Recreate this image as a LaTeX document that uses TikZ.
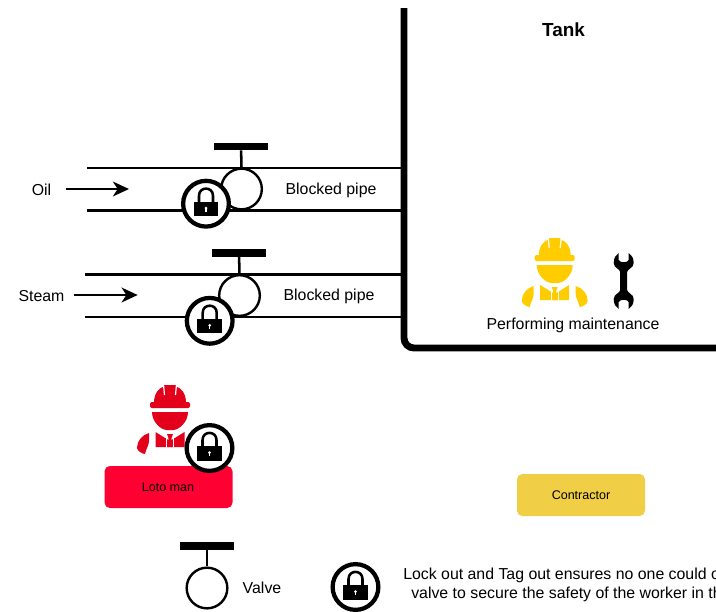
\documentclass[tikz,border=0pt]{standalone}
\usepackage{fontspec}
\setmainfont{Liberation Sans}
\usetikzlibrary{arrows.meta}
\definecolor{helmetyellow}{RGB}{255,204,0}
\definecolor{helmetred}{RGB}{226,0,26}
\definecolor{lotored}{RGB}{255,0,51}
\definecolor{contractoryellow}{RGB}{240,206,69}
\tikzset{
  every pic/.style={yscale=-1},
  pipeline/.style={line width=2.2pt},
  tankwall/.style={line width=5.2pt,rounded corners=7.5pt},
  flowarrow/.style={line width=2pt,-{Stealth[length=12pt,width=11pt,inset=3.5pt]}},
  valvebody/.style={circle,draw,line width=1.8pt,fill=white,minimum size=30.5pt,inner sep=0pt},
  valvehandle/.style={rectangle,fill=black,minimum width=40pt,minimum height=5.6pt,inner sep=0pt},
  valvestem/.style={line width=1.9pt},
  lockring/.style={circle,draw,line width=3.2pt,fill=white,minimum size=34.3pt,inner sep=0pt},
  labeltext/.style={inner sep=0.75pt,font=\fontsize{11.9}{14}\selectfont},
  tanktext/.style={inner sep=0.75pt,font=\fontsize{14.2}{17}\selectfont\bfseries},
  smalltext/.style={inner sep=0.75pt,font=\fontsize{9.4}{11}\selectfont},
  rolebox/.style={rectangle,rounded corners=4pt,minimum width=96pt,minimum height=31.5pt,inner sep=0pt},
  padlock/.pic={
    \draw [line width=1.9pt] (-7,0) -- (-7,-8) .. controls (-7,-17.5) and (7,-17.5) .. (7,-8) -- (7,0) ;
    \fill (-12.3,-2) rectangle (12.3,12.5) ;
    \fill [white] (0,4.5) circle (1.5) ;
    \fill [white] (-0.7,4.5) rectangle (0.7,8) ;
  },
  wrench/.pic={
    \fill (-3.5,-9) .. controls (-3.5,-12) and (-10,-13) .. (-10,-18) .. controls (-10,-23) and (-8,-26) .. (-5,-28) -- (-5,-21) .. controls (-4,-18) and (4,-18) .. (5,-21) -- (5,-28) .. controls (8,-26) and (10,-23) .. (10,-18) .. controls (10,-13) and (3.5,-12) .. (3.5,-9) -- (3.5,9) .. controls (3.5,12) and (10,13) .. (10,18) .. controls (10,23) and (8,26) .. (5,28) -- (5,21) .. controls (4,18) and (-4,18) .. (-5,21) -- (-5,28) .. controls (-8,26) and (-10,23) .. (-10,18) .. controls (-10,13) and (-3.5,12) .. (-3.5,9) -- cycle ;
  },
  worker/.pic={
    %helmet
    \fill [pic actions] (-16,18) .. controls (-16,8) and (-11,3) .. (-6,1.5) -- (-6,0) -- (6,0) -- (6,1.5) .. controls (11,3) and (16,8) .. (16,18) -- cycle ;
    \draw [white,line width=0.9pt] (-6.5,-0.5) -- (-5.5,10) (6.5,-0.5) -- (5.5,10) ;
    \fill [pic actions,rounded corners=1.5pt] (-20,17) rectangle (20,23) ;
    %face
    \fill [pic actions] (-18,27) -- (18,27) .. controls (18,37) and (9,45) .. (3,45) -- (-3,45) .. controls (-9,45) and (-18,37) .. (-18,27) -- cycle ;
    %body
    \fill [pic actions] (-14.5,47) -- (0,56) -- (14.5,47) -- (14.5,62) -- (-14.5,62) -- cycle ;
    \fill [pic actions] (-3,49) -- (3,49) -- (1.5,53) -- (2.5,62) -- (-2.5,62) -- (-1.5,53) -- cycle ;
    \draw [white,line width=0.6pt] (-3.5,50) -- (-3.5,62) (3.5,50) -- (3.5,62) ;
    %arms
    \fill [pic actions] (-21,48) .. controls (-28,50) and (-33,56) .. (-33,63) .. controls (-33,66) and (-27,69) .. (-25,69) .. controls (-24,64) and (-21,60) .. (-21,56) -- cycle ;
    \fill [pic actions] (21,48) .. controls (28,50) and (33,56) .. (33,63) .. controls (33,66) and (27,69) .. (25,69) .. controls (24,64) and (21,60) .. (21,56) -- cycle ;
  },
}
\begin{document}
\begin{tikzpicture}[x=0.75pt,y=0.75pt,yscale=-1,xscale=1]
        \useasboundingbox (0,0) rectangle (716,611);
        \clip (0,0) rectangle (716,611);

        %Tank wall
        \coordinate (walltop) at (404,8);
        \coordinate (wallcorner) at (404,348);
        \coordinate (wallend) at (716,348);
        \draw [tankwall] (walltop) -- (wallcorner) -- (wallend) ;

        %Pipes
        \coordinate (oiltop) at (87,168);
        \coordinate (oilbottom) at (87,210.5);
        \coordinate (steamtop) at (85,274.5);
        \coordinate (steambottom) at (85,317);
        \draw [pipeline] (oiltop) -- (oiltop -| walltop) ;
        \draw [pipeline] (oilbottom) -- (oilbottom -| walltop) ;
        \draw [pipeline] (steamtop) -- (steamtop -| walltop) ;
        \draw [pipeline] (steambottom) -- (steambottom -| walltop) ;

        %Valves
        \node (valveoil) [valvebody] at (241.5,189) {};
        \node (handleoil) [valvehandle] at (241,146.3) {};
        \draw [valvestem] (handleoil) -- (valveoil.north) ;
        \node (valvesteam) [valvebody] at (239.5,295.5) {};
        \node (handlesteam) [valvehandle] at (239,253) {};
        \draw [valvestem] (handlesteam) -- (valvesteam.north) ;
        \node (valvelegend) [valvebody] at (207,588) {};
        \node (handlelegend) [valvehandle] at (207,546) {};
        \draw [valvestem] (handlelegend) -- (valvelegend.north) ;

        %Locks
        \node (lockoil) [lockring] at (206,203.7) {};
        \pic at (lockoil) {padlock};
        \node (locksteam) [lockring] at (209.7,320.8) {};
        \pic at (locksteam) {padlock};

        %Workers and boxes
        \pic [fill=helmetyellow] at (554.7,238) {worker};
        \pic at (623.7,281) {wrench};
        \pic [fill=helmetred] at (170,385) {worker};
        \node (lotobox) [rolebox,fill=lotored] at (168.5,487) {};
        \node (contractorbox) [rolebox,fill=contractoryellow] at (581,495) {};
        \node (lockman) [lockring] at (209.5,448) {};
        \pic at (lockman) {padlock};
        \node (locklegend) [lockring] at (355.5,587) {};
        \pic at (locklegend) {padlock};

        %Flow arrows
        \coordinate (oilstart) at (65.7,189);
        \coordinate (oilend) at (129,189);
        \coordinate (steamstart) at (74,295);
        \coordinate (steamend) at (137.7,295);
        \draw [flowarrow] (oilstart) -- (oilend) ;
        \draw [flowarrow] (steamstart) -- (steamend) ;

        % Text Node
        \draw (563.5,30) node (tanklabel) [tanktext] {Tank};
        % Text Node
        \draw (41.5,189.5) node (oillabel) [labeltext] {Oil};
        % Text Node
        \draw (41.5,296) node (steamlabel) [labeltext] {Steam};
        % Text Node
        \draw (331,190) node (blockedoil) [labeltext] {Blocked pipe};
        % Text Node
        \draw (329,296) node (blockedsteam) [labeltext] {Blocked pipe};
        % Text Node
        \draw (573,325) node (maintenance) [labeltext] {Performing maintenance};
        % Text Node
        \draw (168,487.5) node (lotolabel) [smalltext] {Loto man};
        % Text Node
        \draw (581,495.5) node (contractorlabel) [smalltext] {Contractor};
        % Text Node
        \draw (262,588) node (valvelabel) [labeltext] {Valve};
        % Text Node
        \draw (402,575) node (lotoline) [labeltext,anchor=west] {Lock out and Tag out ensures no one could o};
        % Text Node
        \draw (410,594) node (valveline) [labeltext,anchor=west] {valve to secure the safety of the worker in th};
\end{tikzpicture}
\end{document}
